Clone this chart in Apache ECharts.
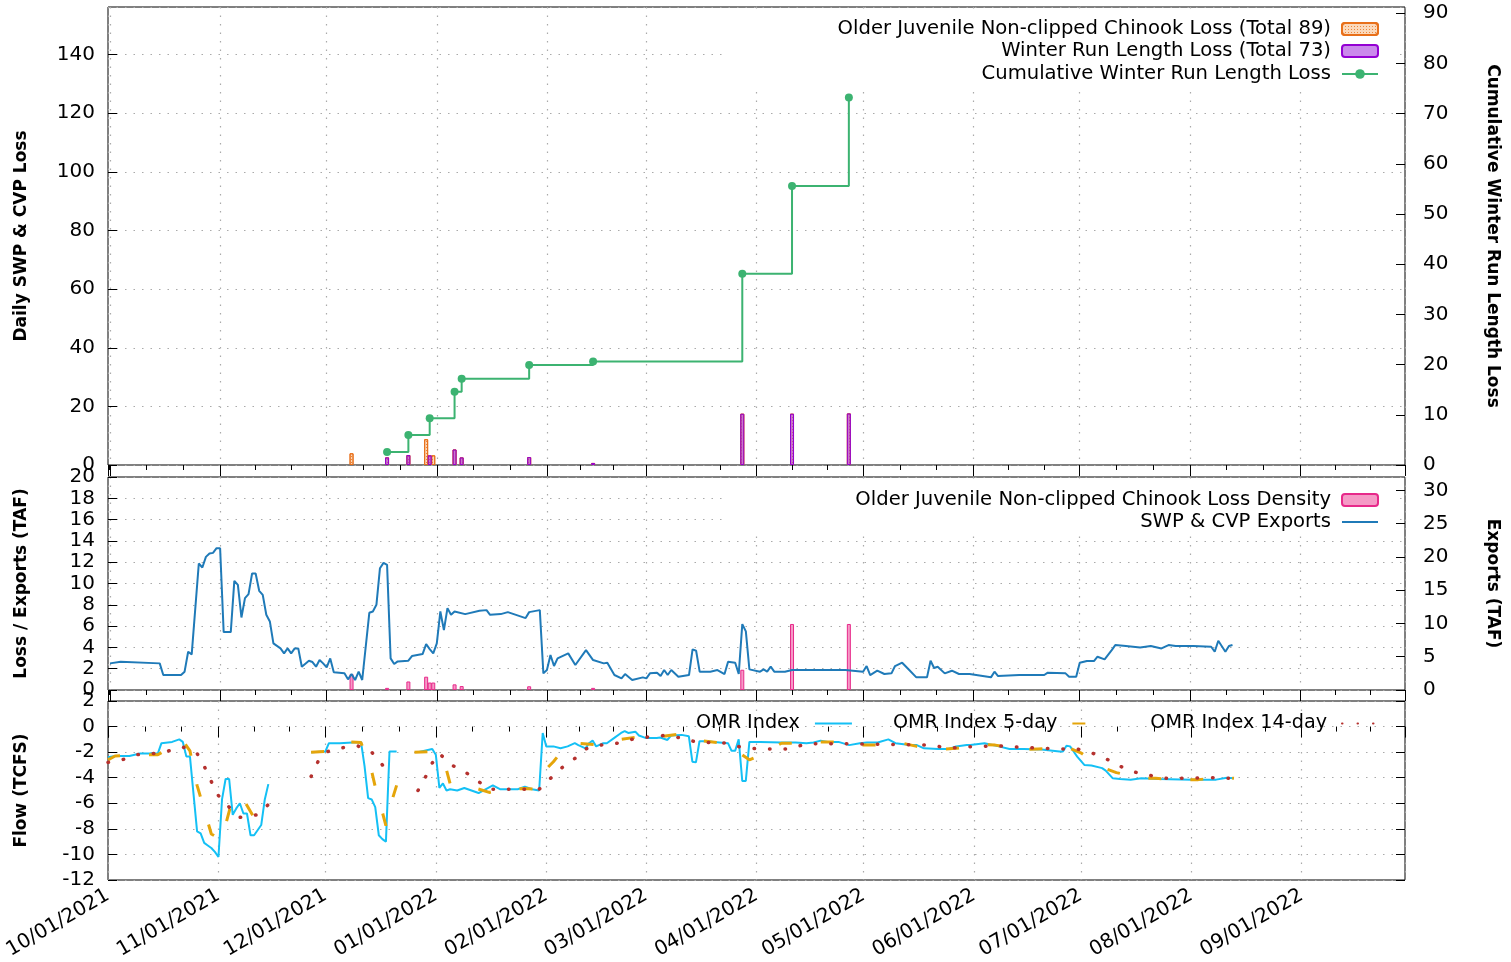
<!DOCTYPE html>
<html>
<head>
<meta charset="utf-8">
<title>SWP & CVP loss, exports and OMR</title>
<script src="https://cdn.jsdelivr.net/npm/echarts@6/dist/echarts.min.js"></script>
<style>
  html, body { margin: 0; padding: 0; background: #fff; }
  #chart { width: 1511px; height: 962px; }
</style>
</head>
<body>
<div id="chart"></div>
<script>
// x values are days counted from 10/01/2021
var lossDays = [78, 84, 90, 97, 99, 118, 136, 178, 192, 208];
var winterRunLoss = [2.6, 3.4, 3.3, 5.3, 2.6, 2.7, 0.7, 17.5, 17.5, 17.6];
var cumulativeWinterRun = [2.6, 6.0, 9.3, 14.6, 17.2, 19.9, 20.6, 38.1, 55.6, 73.2];

var chinookDays = [68, 78, 84, 89, 90, 91, 97, 99, 118, 136, 178, 192, 208];
var chinookLoss = [4.0, 2.6, 3.4, 8.8, 3.3, 3.3, 5.3, 2.6, 2.7, 0.7, 17.5, 17.5, 17.6];
var chinookDensity = [1.5, 0.2, 0.8, 1.25, 0.7, 0.7, 0.53, 0.37, 0.35, 0.2, 1.9, 6.2, 6.2];

// [day, TAF]
var exportsTAF = [[0,4.0],[3,4.25],[14,4.0],[15,2.25],[20,2.25],[21,2.75],[22,5.75],[23,5.35],[25,19.0],[26,18.4],[27,20.0],[28,20.5],[29,20.6],[30,21.3],[31,21.3],[32,8.7],[34,8.7],[35,16.4],[36,15.8],[37,10.9],[38,13.8],[39,14.4],[40,17.5],[41,17.5],[42,14.9],[43,14.3],[44,11.3],[45,10.3],[46,7.0],[48,6.25],[49,5.5],[50,6.25],[51,5.5],[52,6.25],[53,6.25],[54,3.5],[56,4.4],[57,4.2],[58,3.5],[59,4.5],[60,4.0],[61,3.4],[62,4.75],[63,2.65],[66,2.5],[67,1.6],[68,2.4],[69,1.5],[70,2.75],[71,1.5],[73,11.6],[74,11.8],[75,12.8],[76,18.3],[77,19.1],[78,18.8],[79,4.75],[80,3.9],[81,4.3],[84,4.4],[85,5.1],[88,5.4],[89,6.9],[90,6.15],[91,5.5],[92,7.0],[93,11.8],[94,9.0],[95,12.3],[96,11.3],[97,11.8],[100,11.4],[104,11.9],[106,12.0],[107,11.3],[110,11.4],[112,11.7],[117,10.8],[118,11.7],[121,12.0],[122,2.5],[123,3.0],[124,5.25],[125,3.6],[126,4.75],[129,5.5],[131,3.75],[134,6.0],[136,4.5],[139,4.0],[140,4.1],[142,2.25],[144,1.75],[145,2.4],[147,1.5],[150,1.9],[151,1.75],[152,2.5],[154,2.6],[155,2.1],[156,3.0],[157,2.25],[158,3.0],[160,2.0],[163,2.25],[164,6.1],[165,5.9],[166,2.75],[169,2.75],[171,3.0],[173,2.4],[174,4.25],[176,4.1],[177,2.4],[178,9.9],[179,8.8],[180,3.1],[183,2.75],[184,3.1],[185,2.75],[186,3.5],[187,2.75],[190,2.75],[192,3.0],[207,3.0],[212,2.75],[213,3.6],[214,2.25],[216,2.9],[218,2.4],[220,2.5],[221,3.6],[223,4.1],[225,3.0],[227,1.9],[230,1.9],[231,4.4],[232,3.3],[233,3.5],[235,2.5],[237,2.9],[239,2.4],[242,2.4],[248,1.9],[249,2.75],[250,2.1],[256,2.25],[263,2.25],[264,2.6],[269,2.5],[270,2.0],[272,2.0],[273,4.1],[275,4.35],[277,4.35],[278,5.0],[280,4.6],[282,6.0],[283,6.75],[286,6.6],[290,6.4],[293,6.6],[296,6.25],[298,6.75],[300,6.6],[305,6.6],[310,6.5],[311,5.75],[312,7.4],[314,5.75],[315,6.6],[316,6.75]];

// [day, TCFS], null = no data
var omrIndex = [[0,-2.4],[2,-2.3],[6,-2.3],[9,-2.1],[14,-2.1],[15,-1.3],[18,-1.2],[20,-1.0],[21,-1.2],[22,-2.35],[23,-2.35],[25,-8.2],[26,-8.35],[27,-9.1],[28,-9.3],[29,-9.5],[30,-9.8],[31,-10.2],[32,-5.7],[33,-4.1],[34,-4.1],[35,-6.9],[36,-6.4],[37,-6.0],[38,-6.8],[39,-6.8],[40,-8.5],[41,-8.5],[43,-7.7],[44,-5.7],[45,-4.5],[46,null],
  [57,-2.0],[61,-1.95],[62,-1.3],[65,-1.3],[71,-1.2],[72,-3.1],[73,-5.6],[74,-5.7],[75,-6.3],[76,-8.5],[77,-8.8],[78,-9.0],[79,-1.95],[81,-1.95],[82,null],
  [87,-2.0],[91,-1.75],[92,-2.2],[93,-4.8],[94,-4.45],[95,-5.0],[96,-4.9],[98,-5.0],[100,-4.8],[102,-5.0],[104,-5.2],[108,-4.6],[110,-4.9],[115,-4.9],[117,-4.7],[119,-4.9],[121,-5.0],[122,-0.5],[123,-1.55],[125,-1.55],[127,-1.7],[129,-1.55],[131,-1.3],[132,-1.45],[134,-1.7],[135,-1.3],[136,-1.1],[137,-1.55],[139,-1.3],[140,-1.3],[142,-0.9],[144,-0.5],[145,-0.35],[146,-0.5],[148,-0.4],[149,-0.7],[151,-0.9],[154,-0.9],[155,-0.85],[157,-1.05],[158,-0.7],[161,-0.65],[163,-0.75],[164,-2.75],[165,-2.8],[166,-1.15],[168,-1.15],[170,-1.2],[174,-1.3],[175,-1.9],[176,-1.9],[177,-1.0],[178,-4.25],[179,-4.25],[180,-1.2],[183,-1.2],[189,-1.25],[193,-1.25],[196,-1.3],[198,-1.25],[200,-1.1],[202,-1.2],[205,-1.2],[208,-1.45],[211,-1.3],[213,-1.25],[216,-1.25],[219,-1.0],[221,-1.3],[225,-1.45],[227,-1.45],[229,-1.7],[233,-1.75],[236,-1.75],[238,-1.55],[241,-1.45],[242,-1.45],[246,-1.3],[250,-1.55],[253,-1.75],[257,-1.75],[262,-1.8],[267,-1.95],[268,-1.95],[269,-1.5],[270,-1.55],[271,-1.95],[272,-2.35],[274,-3.0],[276,-3.05],[279,-3.25],[280,-3.45],[282,-4.05],[284,-4.1],[287,-4.15],[290,-4.05],[295,-4.1],[304,-4.15],[311,-4.15],[314,-4.0],[316,-4.05]];

var omr5Day = [[0,-2.6],[2,-2.3],[10,-2.2],[14,-2.2],[21,-1.1],[23,-1.9],[25,-4.6],[29,-8.4],[32,-8.9],[33,-7.7],[35,-5.6],[37,-5.4],[38,-5.7],[42,-7.6],[44,-7.0],[46,null],
  [57,-2.0],[61,-1.95],[68,-1.2],[71,-1.25],[74,-3.5],[75,-4.7],[77,-6.7],[78,-7.75],[80,-5.5],[81,-4.6],[82,null],
  [86,-2.0],[91,-1.95],[95,-3.4],[96,-4.45],[103,-4.8],[107,-5.15],[111,-4.9],[117,-4.85],[120,-4.9],[122,-3.6],[125,-2.75],[128,-1.7],[132,-1.3],[138,-1.45],[143,-1.05],[150,-0.75],[155,-0.8],[161,-0.55],[165,-1.05],[171,-1.25],[174,-1.45],[180,-2.6],[183,-2.25],[189,-1.3],[193,-1.3],[199,-1.2],[204,-1.2],[212,-1.45],[216,-1.45],[223,-1.3],[227,-1.55],[235,-1.75],[238,-1.7],[246,-1.4],[249,-1.45],[257,-1.8],[261,-1.75],[270,-1.7],[273,-2.05],[279,-3.2],[283,-3.6],[290,-4.05],[294,-4.05],[301,-4.15],[306,-4.15],[313,-3.95],[316,-4.05]];

var omr14Day = [[0,-2.8],[4,-2.6],[8,-2.2],[13,-2.1],[17,-1.9],[21,-1.6],[25,-2.1],[27,-3.1],[29,-4.3],[31,-5.4],[34,-6.3],[37,-7.1],[42,-6.9],[45,-6.1],[46,null],
  [57,-3.9],[59,-2.7],[61,-2.0],[66,-1.65],[70,-1.5],[74,-2.0],[77,-3.0],[79,-3.9],[80,null],
  [87,-5.0],[89,-4.0],[91,-2.85],[93,-2.1],[96,-2.95],[100,-3.5],[104,-4.3],[107,-4.9],[121,-4.9],[124,-4.1],[127,-3.3],[131,-2.5],[134,-1.75],[138,-1.45],[143,-1.3],[147,-1.0],[152,-0.8],[156,-0.7],[160,-0.85],[165,-1.2],[169,-1.25],[174,-1.3],[178,-1.65],[183,-1.75],[187,-1.75],[191,-1.75],[196,-1.35],[200,-1.35],[205,-1.35],[209,-1.35],[231,-1.45],[236,-1.7],[240,-1.6],[245,-1.55],[249,-1.5],[258,-1.65],[267,-1.75],[272,-1.75],[276,-2.05],[280,-2.5],[284,-3.1],[288,-3.55],[293,-3.85],[297,-4.05],[311,-4.0],[315,-4.05]];

var DAY = 86400000;
var START = Date.UTC(2021, 9, 1);
function day(d) { return START + d * DAY; }
function zipDays(days, vals) {
  return days.map(function (d, i) { return [day(d), vals[i]]; });
}
function toTime(points) {
  return points.map(function (p) { return [day(p[0]), p[1] === null ? '-' : p[1]]; });
}

var FONT = 'DejaVu Sans';
var gridDots = { color: '#aaaaaa', width: 1.2, type: [1.5, 7] };

function xAxisFor(i, showLabels) {
  return {
    type: 'time', gridIndex: i,
    min: day(0), max: day(364),
    splitNumber: 12, minInterval: 28 * DAY, maxInterval: 31 * DAY,
    axisLine: { show: false },
    axisTick: { show: true, inside: false, length: 11, lineStyle: { color: '#000' } },
    minorTick: { show: true, splitNumber: 3, length: 5, lineStyle: { color: '#000' } },
    splitLine: { show: true, lineStyle: gridDots },
    axisLabel: showLabels ? {
      show: true, rotate: 30, margin: 14, fontSize: 20, color: '#000', fontFamily: FONT,
      formatter: '{MM}/{dd}/{yyyy}', showMaxLabel: false
    } : { show: false }
  };
}

function yAxisFor(i, side, min, max, interval, name, opts) {
  opts = opts || {};
  return {
    type: 'value', gridIndex: i, position: side,
    min: min, max: max, interval: interval,
    name: name, nameLocation: 'middle',
    nameGap: side === 'left' ? 78 : 79,
    nameRotate: side === 'left' ? 90 : -90,
    nameTextStyle: { fontSize: 17, fontWeight: 'bold', color: '#000', fontFamily: FONT },
    axisLine: { show: false },
    axisTick: { show: true, inside: true, length: 9, lineStyle: { color: '#000' } },
    splitLine: { show: side === 'left', lineStyle: gridDots },
    axisLabel: {
      show: opts.labels !== false, fontSize: 20, color: '#000', fontFamily: FONT,
      margin: side === 'left' ? 13 : 18, showMaxLabel: opts.showMax !== false
    }
  };
}

var noDot = { opacity: 0 };
function legendAt(items, top, extra) {
  return Object.assign({
    orient: 'horizontal', align: 'right', right: 132, padding: 0, top: top,
    itemWidth: 36, itemHeight: 12, selectedMode: false, data: items,
    textStyle: { fontSize: 19.6, color: '#000', fontFamily: FONT, padding: [0, 6, 0, 0] }
  }, extra || {});
}

var chartDom = document.getElementById('chart');
var myChart = echarts.init(chartDom, null, { renderer: 'canvas' });
var option;

option = {
  animation: false,
  useUTC: true,
  backgroundColor: '#fff',
  textStyle: { fontFamily: FONT },
  grid: [
    { left: 108, width: 1297, top: 7, height: 458, show: true, borderColor: '#000', borderWidth: 1 },
    { left: 108, width: 1297, top: 477, height: 213, show: true, borderColor: '#000', borderWidth: 1 },
    { left: 108, width: 1297, top: 701, height: 179, show: true, borderColor: '#000', borderWidth: 1 }
  ],
  xAxis: [xAxisFor(0, false), xAxisFor(1, false), xAxisFor(2, true)],
  yAxis: [
    yAxisFor(0, 'left', 0, 156.25, 20, 'Daily SWP & CVP Loss', { showMax: false }),
    yAxisFor(0, 'right', 0, 91.25, 10, 'Cumulative Winter Run Length Loss', { showMax: false }),
    yAxisFor(1, 'left', 0, 20, 2, 'Loss / Exports (TAF)'),
    yAxisFor(1, 'right', 0, 32, 5, 'Exports (TAF)', { showMax: false }),
    yAxisFor(2, 'left', -12, 2, 2, 'Flow (TCFS)'),
    yAxisFor(2, 'right', -12, 2, 2, '', { labels: false })
  ],
  graphic: [
    { type: 'rect', z: 1, silent: true, shape: { x: 728, y: 15, width: 666, height: 72 }, style: { fill: '#fff' } },
    { type: 'rect', z: 1, silent: true, shape: { x: 728, y: 485, width: 666, height: 48 }, style: { fill: '#fff' } }
  ],
  legend: [
    legendAt(['Older Juvenile Non-clipped Chinook Loss (Total 89)'], 19),
    legendAt(['Winter Run Length Loss (Total 73)'], 41),
    legendAt(['Cumulative Winter Run Length Loss'], 64),
    legendAt(['Older Juvenile Non-clipped Chinook Loss Density'], 490),
    legendAt([{ name: 'SWP & CVP Exports', itemStyle: noDot }], 512),
    legendAt([
      { name: 'OMR Index', itemStyle: noDot },
      { name: 'OMR Index 5-day', itemStyle: noDot },
      { name: 'OMR Index 14-day', itemStyle: noDot }
    ], 714, {
      right: 131, itemGap: 40, itemWidth: 37,
      textStyle: { fontSize: 19.2, color: '#000', fontFamily: FONT, padding: [0, 10, 0, 0] }
    })
  ],
  series: [
    {
      name: 'Older Juvenile Non-clipped Chinook Loss (Total 89)', type: 'bar',
      xAxisIndex: 0, yAxisIndex: 0, barWidth: 4, barGap: '-100%',
      data: zipDays(chinookDays, chinookLoss),
      itemStyle: {
        color: '#fbd9bb', borderColor: '#e8701a', borderWidth: 1,
        decal: { color: 'rgba(232,112,26,0.8)', symbol: 'rect', symbolSize: 1, dashArrayX: [1, 2], dashArrayY: [1, 2], rotation: 0 }
      }
    },
    {
      name: 'Winter Run Length Loss (Total 73)', type: 'bar',
      xAxisIndex: 0, yAxisIndex: 0, barWidth: 4, barGap: '-100%',
      data: zipDays(lossDays, winterRunLoss),
      itemStyle: { color: 'rgba(160,40,220,0.55)', borderColor: '#9400d3', borderWidth: 1 }
    },
    {
      name: 'Cumulative Winter Run Length Loss', type: 'line',
      xAxisIndex: 0, yAxisIndex: 1, step: 'end',
      data: zipDays(lossDays, cumulativeWinterRun),
      symbol: 'circle', symbolSize: 8,
      itemStyle: { color: '#3cb371' },
      lineStyle: { color: '#3cb371', width: 2 }
    },
    {
      name: 'Older Juvenile Non-clipped Chinook Loss Density', type: 'bar',
      xAxisIndex: 1, yAxisIndex: 2, barWidth: 4,
      data: zipDays(chinookDays, chinookDensity),
      itemStyle: { color: '#f59ac6', borderColor: '#e7298a', borderWidth: 1 }
    },
    {
      name: 'SWP & CVP Exports', type: 'line',
      xAxisIndex: 1, yAxisIndex: 3, symbol: 'none',
      data: toTime(exportsTAF),
      itemStyle: { color: '#1f7ab8' },
      lineStyle: { color: '#1f7ab8', width: 2 }
    },
    {
      name: 'OMR Index', type: 'line',
      xAxisIndex: 2, yAxisIndex: 4, symbol: 'none', connectNulls: false,
      data: toTime(omrIndex),
      itemStyle: { color: '#14c0f5' },
      lineStyle: { color: '#14c0f5', width: 2 }
    },
    {
      name: 'OMR Index 5-day', type: 'line',
      xAxisIndex: 2, yAxisIndex: 4, symbol: 'none', connectNulls: false,
      data: toTime(omr5Day),
      itemStyle: { color: '#e5a50a' },
      lineStyle: { color: '#e5a50a', width: 3, type: [13, 29] }
    },
    {
      name: 'OMR Index 14-day', type: 'line',
      xAxisIndex: 2, yAxisIndex: 4, symbol: 'none', connectNulls: false,
      data: toTime(omr14Day),
      itemStyle: { color: '#b5312e' },
      lineStyle: { color: '#b5312e', width: 3.5, type: [0.5, 15], cap: 'round' }
    }
  ]
};

option && myChart.setOption(option);
window.addEventListener('resize', function () {
  myChart.resize();
});
</script>
</body>
</html>
